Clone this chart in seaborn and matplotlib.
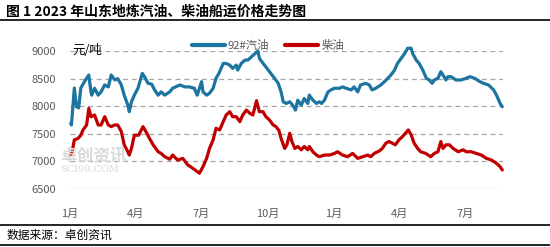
import matplotlib
matplotlib.use("Agg")
import matplotlib.pyplot as plt
import seaborn as sns
import pandas as pd
from matplotlib.lines import Line2D

# ---------------- data ----------------
gas_dates = ["2023-01-02","2023-01-03","2023-01-07","2023-01-10","2023-01-13","2023-01-16","2023-01-21","2023-01-27",
             "2023-01-30","2023-01-31","2023-02-04","2023-02-09","2023-02-13","2023-02-18","2023-02-23","2023-02-27",
             "2023-03-04","2023-03-08","2023-03-13","2023-03-17","2023-03-22","2023-03-24","2023-03-27","2023-03-31",
             "2023-04-05","2023-04-11","2023-04-14","2023-04-19","2023-04-24","2023-04-28","2023-05-03","2023-05-07",
             "2023-05-12","2023-05-19","2023-05-23","2023-06-02","2023-06-09","2023-06-15","2023-06-22","2023-06-26",
             "2023-07-02","2023-07-04","2023-07-09","2023-07-13","2023-07-18","2023-07-22","2023-07-26","2023-08-01",
             "2023-08-05","2023-08-10","2023-08-14","2023-08-19","2023-08-21","2023-08-26","2023-08-31","2023-09-04",
             "2023-09-09","2023-09-18","2023-09-20","2023-09-27","2023-10-04","2023-10-11","2023-10-16","2023-10-20",
             "2023-10-23","2023-10-27","2023-11-01","2023-11-05","2023-11-09","2023-11-12","2023-11-17","2023-11-21",
             "2023-11-26","2023-11-28","2023-12-03","2023-12-08","2023-12-12","2023-12-15","2023-12-19","2023-12-24",
             "2023-12-28","2024-01-02","2024-01-09","2024-01-13","2024-01-18","2024-01-25","2024-01-29","2024-02-03",
             "2024-02-07","2024-02-14","2024-02-19","2024-02-23","2024-02-28","2024-03-06","2024-03-11","2024-03-20",
             "2024-03-25","2024-03-29","2024-04-03","2024-04-08","2024-04-12","2024-04-17","2024-04-19","2024-04-24",
             "2024-04-28","2024-05-03","2024-05-08","2024-05-12","2024-05-16","2024-05-19","2024-05-24","2024-05-28",
             "2024-05-31","2024-06-04","2024-06-07","2024-06-11","2024-06-18","2024-06-25","2024-07-02","2024-07-07",
             "2024-07-14","2024-07-21","2024-07-26","2024-08-02","2024-08-09","2024-08-13","2024-08-18","2024-08-21"]
gas_prices = [7690,7660,8330,7990,7970,8330,8445,8565,
              8260,8200,8325,8200,8260,8385,8350,8565,
              8475,8500,8385,8200,8020,7900,8080,8200,
              8325,8595,8535,8415,8400,8295,8200,8260,
              8200,8260,8325,8385,8350,8350,8325,8200,
              8445,8260,8200,8235,8325,8505,8595,8775,
              8775,8745,8685,8745,8655,8775,8835,8835,
              8895,9000,8865,8745,8625,8505,8415,8260,
              8080,8050,8080,8020,7930,8110,8020,8140,
              8050,8200,8110,8050,8080,8050,8110,8260,
              8295,8325,8325,8350,8325,8295,8350,8260,
              8385,8415,8385,8295,8325,8385,8445,8565,
              8655,8775,8865,8955,9050,9050,8955,8835,
              8775,8655,8505,8475,8415,8475,8505,8625,
              8565,8475,8535,8535,8475,8475,8505,8535,
              8505,8445,8415,8385,8295,8200,8050,7990]

diesel_dates = ["2023-01-02","2023-01-04","2023-01-07","2023-01-12","2023-01-16","2023-01-19","2023-01-24","2023-01-27",
                "2023-01-30","2023-02-04","2023-02-09","2023-02-13","2023-02-18","2023-02-23","2023-02-27","2023-03-04",
                "2023-03-08","2023-03-13","2023-03-17","2023-03-22","2023-03-24","2023-03-27","2023-03-31","2023-04-06",
                "2023-04-12","2023-04-16","2023-04-21","2023-04-26","2023-05-03","2023-05-07","2023-05-12","2023-05-19",
                "2023-05-23","2023-05-30","2023-06-06","2023-06-13","2023-06-20","2023-06-29","2023-07-04","2023-07-09",
                "2023-07-13","2023-07-18","2023-07-22","2023-07-27","2023-08-01","2023-08-05","2023-08-10","2023-08-14",
                "2023-08-19","2023-08-24","2023-08-28","2023-09-02","2023-09-07","2023-09-11","2023-09-16","2023-09-20",
                "2023-09-25","2023-09-29","2023-10-04","2023-10-09","2023-10-13","2023-10-17","2023-10-20","2023-10-25",
                "2023-10-28","2023-11-01","2023-11-04","2023-11-08","2023-11-12","2023-11-17","2023-11-21","2023-11-26",
                "2023-11-28","2023-12-03","2023-12-08","2023-12-12","2023-12-19","2023-12-26","2024-01-02","2024-01-06",
                "2024-01-13","2024-01-20","2024-01-27","2024-02-03","2024-02-10","2024-02-17","2024-02-21","2024-02-26",
                "2024-03-04","2024-03-08","2024-03-13","2024-03-17","2024-03-22","2024-03-26","2024-03-31","2024-04-05",
                "2024-04-09","2024-04-13","2024-04-17","2024-04-21","2024-04-26","2024-04-30","2024-05-07","2024-05-14",
                "2024-05-19","2024-05-24","2024-05-28","2024-05-31","2024-06-04","2024-06-09","2024-06-14","2024-06-21",
                "2024-06-28","2024-07-02","2024-07-09","2024-07-16","2024-07-23","2024-07-30","2024-08-06","2024-08-13",
                "2024-08-18","2024-08-21"]
diesel_prices = [7115,7175,7390,7415,7475,7570,7660,7960,
                 7810,7840,7660,7660,7810,7660,7630,7660,
                 7660,7540,7300,7175,7115,7235,7475,7475,
                 7630,7540,7415,7300,7175,7145,7085,7040,
                 7115,7025,7055,6935,6875,6785,6905,7055,
                 7235,7390,7600,7570,7720,7840,7900,7810,
                 7810,7720,7840,7930,7870,7840,8100,7900,
                 7900,7810,7750,7660,7630,7560,7415,7235,
                 7300,7510,7360,7235,7270,7210,7270,7210,
                 7270,7175,7115,7085,7115,7115,7145,7175,
                 7115,7085,7145,7055,7085,7115,7085,7145,
                 7190,7235,7330,7360,7330,7300,7390,7450,
                 7510,7570,7480,7330,7235,7175,7145,7085,
                 7145,7175,7360,7235,7300,7300,7235,7175,
                 7210,7175,7175,7145,7115,7055,7025,6965,
                 6905,6845]

series_names = ["92#汽油", "柴油"]
tick_dates = ["2023-01-01","2023-04-01","2023-07-01","2023-10-01","2024-01-01","2024-04-01","2024-07-01"]
tick_labels = ["1月","4月","7月","10月","1月","4月","7月"]
y_ticks = [6500, 7000, 7500, 8000, 8500, 9000]

title_text = "图 1 2023 年山东地炼汽油、柴油船运价格走势图"
unit_text = "元/吨"
source_text = "数据来源：卓创资讯"

# ---------------- build frame ----------------
df = pd.concat([
    pd.DataFrame({"date": pd.to_datetime(gas_dates), "price": gas_prices, "series": series_names[0]}),
    pd.DataFrame({"date": pd.to_datetime(diesel_dates), "price": diesel_prices, "series": series_names[1]}),
], ignore_index=True)

sns.set_theme(style="white")
plt.rcParams["font.family"] = ["Noto Sans CJK SC", "DejaVu Sans"]
plt.rcParams["axes.unicode_minus"] = False

colors = {series_names[0]: "#1B75A0", series_names[1]: "#C00000"}

fig = plt.figure(figsize=(5.5, 2.47), dpi=100)
ax = fig.add_axes([70/550, 1-189/247, (503-70)/550, (189-51)/247])

# watermark
fig.text(60/550, 1-156/247, "卓创资讯", fontsize=12, color="#d9d9d9", fontweight="bold",
         ha="left", va="center", zorder=0)
fig.text(60/550, 1-170/247, "SCI99.COM", fontsize=7, color="#d9d9d9", family="DejaVu Serif",
         ha="left", va="center", zorder=0)

sns.lineplot(data=df, x="date", y="price", hue="series", palette=colors, linewidth=2.3,
             ax=ax, legend=False, zorder=3)
for ln in ax.lines:
    ln.set_clip_on(False)

ax.set_ylim(6500, 9000)
ax.set_xlim(pd.Timestamp("2023-01-01"), pd.Timestamp("2024-08-22"))
ax.set_yticks(y_ticks)
ax.set_xticks(pd.to_datetime(tick_dates))
ax.set_xticklabels(tick_labels)
ax.set_xlabel("")
ax.set_ylabel("")
for s in ax.spines.values():
    s.set_visible(False)
ax.yaxis.grid(True, linestyle=(0, (4, 3)), color="#A6A6A6", linewidth=0.9)
ax.xaxis.grid(False)
ax.tick_params(axis="y", length=0, pad=10, labelsize=8, labelcolor="#595959")
ax.tick_params(axis="x", length=0, pad=14, labelsize=8, labelcolor="#595959")
ax.patch.set_alpha(0)

# unit label
fig.text(72/550, 1-50/247, unit_text, fontsize=9, color="#000000", ha="left", va="center")

# legend
handles = [Line2D([0], [0], color=colors[n], linewidth=3) for n in series_names]
fig.legend(handles, series_names, loc="center left", bbox_to_anchor=(192/550, 1-45/247),
           ncol=2, frameon=False, fontsize=8.2, handlelength=2.9, handletextpad=0.25,
           columnspacing=1.4, labelcolor="#595959", borderaxespad=0, borderpad=0)

# title and frame lines
fig.text(6/550, 1-12/247, title_text, fontsize=10, fontweight="bold", color="#000000",
         ha="left", va="center")
for yy in (20, 225, 245):
    fig.add_artist(Line2D([0, 1], [1-yy/247, 1-yy/247], color="black", linewidth=1.2,
                          transform=fig.transFigure))
fig.text(7/550, 1-235/247, source_text, fontsize=8.5, color="#000000", ha="left", va="center")

fig.savefig("out.png", dpi=100)
